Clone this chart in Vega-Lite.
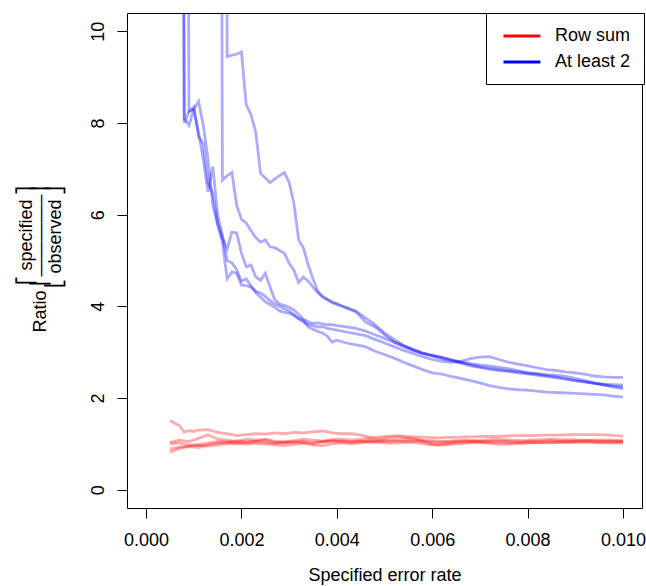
{
"$schema": "https://vega.github.io/schema/vega-lite/v6.json",
"width": 515, "height": 495,
"autosize": {"type": "none"},
"padding": {"left": 127, "top": 13, "right": 4, "bottom": 78},
"background": "white",
"config": {
  "view": {"stroke": "black", "strokeWidth": 1},
  "font": "Liberation Sans",
  "axis": {"grid": false, "domain": false, "tickColor": "black", "tickWidth": 1, "tickSize": 10, "labelFont": "Liberation Sans", "labelFontSize": 18, "labelColor": "black", "titleFont": "Liberation Sans", "titleFontSize": 18, "titleFontWeight": "normal", "titleColor": "black"},
  "legend": {"orient": "none", "legendX": 359, "legendY": 0, "strokeColor": "black", "fillColor": "white", "padding": 13, "symbolType": "M-0.65,0H3.7", "symbolSize": 289, "symbolStrokeWidth": 3, "symbolOpacity": 1, "labelFont": "Liberation Sans", "labelFontSize": 18, "labelColor": "black", "labelOffset": 36, "rowPadding": 7, "labelLimit": 300}
},
"datasets": {
  "runs": [
    {"s": "r1", "m": "Row sum"}, {"s": "r2", "m": "Row sum"}, {"s": "r3", "m": "Row sum"}, {"s": "r4", "m": "Row sum"}, {"s": "r5", "m": "Row sum"},
    {"s": "b1", "m": "At least 2"}, {"s": "b2", "m": "At least 2"}, {"s": "b3", "m": "At least 2"}, {"s": "b4", "m": "At least 2"}, {"s": "b5", "m": "At least 2"}
  ],
  "pts": [
{"s":"b1","x":0.0005,"y":70},{"s":"b1","x":0.001,"y":60},{"s":"b1","x":0.0016,"y":50},{"s":"b1","x":0.0017,"y":9.45},{"s":"b1","x":0.0018,"y":9.48},{"s":"b1","x":0.0019,"y":9.5},{"s":"b1","x":0.002,"y":9.55},{"s":"b1","x":0.0021,"y":8.4},{"s":"b1","x":0.0022,"y":8.18},{"s":"b1","x":0.0023,"y":7.8},{"s":"b1","x":0.0024,"y":6.9},{"s":"b1","x":0.0025,"y":6.8},{"s":"b1","x":0.0026,"y":6.7},{"s":"b1","x":0.0027,"y":6.78},{"s":"b1","x":0.0028,"y":6.85},{"s":"b1","x":0.0029,"y":6.92},{"s":"b1","x":0.003,"y":6.7},{"s":"b1","x":0.0031,"y":6.25},{"s":"b1","x":0.0032,"y":5.45},{"s":"b1","x":0.0033,"y":5.27},{"s":"b1","x":0.0034,"y":4.9},{"s":"b1","x":0.0035,"y":4.6},{"s":"b1","x":0.0036,"y":4.33},{"s":"b1","x":0.0037,"y":4.22},{"s":"b1","x":0.0038,"y":4.15},{"s":"b1","x":0.0039,"y":4.1},{"s":"b1","x":0.004,"y":4.06},{"s":"b1","x":0.0042,"y":3.96},{"s":"b1","x":0.0044,"y":3.88},{"s":"b1","x":0.0046,"y":3.66},{"s":"b1","x":0.0048,"y":3.55},{"s":"b1","x":0.005,"y":3.38},{"s":"b1","x":0.0052,"y":3.22},{"s":"b1","x":0.0054,"y":3.12},{"s":"b1","x":0.0056,"y":3.04},{"s":"b1","x":0.0058,"y":2.97},{"s":"b1","x":0.006,"y":2.92},{"s":"b1","x":0.0062,"y":2.86},{"s":"b1","x":0.0064,"y":2.82},{"s":"b1","x":0.0066,"y":2.76},{"s":"b1","x":0.0068,"y":2.7},{"s":"b1","x":0.007,"y":2.67},{"s":"b1","x":0.0072,"y":2.63},{"s":"b1","x":0.0074,"y":2.6},{"s":"b1","x":0.0076,"y":2.58},{"s":"b1","x":0.0078,"y":2.55},{"s":"b1","x":0.008,"y":2.52},{"s":"b1","x":0.0082,"y":2.5},{"s":"b1","x":0.0084,"y":2.47},{"s":"b1","x":0.0086,"y":2.44},{"s":"b1","x":0.0088,"y":2.41},{"s":"b1","x":0.009,"y":2.38},{"s":"b1","x":0.0092,"y":2.35},{"s":"b1","x":0.0094,"y":2.32},{"s":"b1","x":0.0096,"y":2.29},{"s":"b1","x":0.0098,"y":2.26},{"s":"b1","x":0.01,"y":2.24},
{"s":"b2","x":0.0005,"y":60},{"s":"b2","x":0.001,"y":55},{"s":"b2","x":0.0015,"y":45},{"s":"b2","x":0.0016,"y":6.75},{"s":"b2","x":0.0017,"y":6.85},{"s":"b2","x":0.0018,"y":6.92},{"s":"b2","x":0.0019,"y":6.2},{"s":"b2","x":0.002,"y":5.9},{"s":"b2","x":0.0021,"y":5.82},{"s":"b2","x":0.0022,"y":5.65},{"s":"b2","x":0.0023,"y":5.5},{"s":"b2","x":0.0024,"y":5.4},{"s":"b2","x":0.0025,"y":5.45},{"s":"b2","x":0.0026,"y":5.3},{"s":"b2","x":0.0027,"y":5.28},{"s":"b2","x":0.0028,"y":5.22},{"s":"b2","x":0.0029,"y":5.16},{"s":"b2","x":0.003,"y":4.94},{"s":"b2","x":0.0031,"y":4.79},{"s":"b2","x":0.0032,"y":4.52},{"s":"b2","x":0.0033,"y":4.64},{"s":"b2","x":0.0034,"y":4.55},{"s":"b2","x":0.0035,"y":4.42},{"s":"b2","x":0.0036,"y":4.3},{"s":"b2","x":0.0037,"y":4.2},{"s":"b2","x":0.0038,"y":4.15},{"s":"b2","x":0.0039,"y":4.08},{"s":"b2","x":0.004,"y":4.04},{"s":"b2","x":0.0042,"y":3.98},{"s":"b2","x":0.0044,"y":3.9},{"s":"b2","x":0.0046,"y":3.75},{"s":"b2","x":0.0048,"y":3.6},{"s":"b2","x":0.005,"y":3.42},{"s":"b2","x":0.0052,"y":3.28},{"s":"b2","x":0.0054,"y":3.15},{"s":"b2","x":0.0056,"y":3.05},{"s":"b2","x":0.0058,"y":2.98},{"s":"b2","x":0.006,"y":2.93},{"s":"b2","x":0.0062,"y":2.89},{"s":"b2","x":0.0064,"y":2.84},{"s":"b2","x":0.0066,"y":2.79},{"s":"b2","x":0.0068,"y":2.73},{"s":"b2","x":0.007,"y":2.68},{"s":"b2","x":0.0072,"y":2.65},{"s":"b2","x":0.0074,"y":2.62},{"s":"b2","x":0.0076,"y":2.59},{"s":"b2","x":0.0078,"y":2.57},{"s":"b2","x":0.008,"y":2.55},{"s":"b2","x":0.0082,"y":2.53},{"s":"b2","x":0.0084,"y":2.51},{"s":"b2","x":0.0086,"y":2.5},{"s":"b2","x":0.0088,"y":2.47},{"s":"b2","x":0.009,"y":2.43},{"s":"b2","x":0.0092,"y":2.38},{"s":"b2","x":0.0094,"y":2.33},{"s":"b2","x":0.0096,"y":2.28},{"s":"b2","x":0.0098,"y":2.24},{"s":"b2","x":0.01,"y":2.2},
{"s":"b3","x":0.0005,"y":60},{"s":"b3","x":0.0006,"y":50},{"s":"b3","x":0.0007,"y":40},{"s":"b3","x":0.0008,"y":8.0},{"s":"b3","x":0.0009,"y":8.25},{"s":"b3","x":0.001,"y":8.35},{"s":"b3","x":0.0011,"y":7.7},{"s":"b3","x":0.0012,"y":7.55},{"s":"b3","x":0.0013,"y":6.7},{"s":"b3","x":0.0014,"y":6.45},{"s":"b3","x":0.0015,"y":5.8},{"s":"b3","x":0.0016,"y":5.5},{"s":"b3","x":0.0017,"y":5.25},{"s":"b3","x":0.0018,"y":5.62},{"s":"b3","x":0.0019,"y":5.6},{"s":"b3","x":0.002,"y":5.16},{"s":"b3","x":0.0021,"y":4.86},{"s":"b3","x":0.0022,"y":4.9},{"s":"b3","x":0.0023,"y":4.64},{"s":"b3","x":0.0024,"y":4.57},{"s":"b3","x":0.0025,"y":4.72},{"s":"b3","x":0.0026,"y":4.42},{"s":"b3","x":0.0027,"y":4.14},{"s":"b3","x":0.0028,"y":4.05},{"s":"b3","x":0.0029,"y":4.02},{"s":"b3","x":0.003,"y":3.98},{"s":"b3","x":0.0031,"y":3.92},{"s":"b3","x":0.0032,"y":3.82},{"s":"b3","x":0.0033,"y":3.72},{"s":"b3","x":0.0034,"y":3.66},{"s":"b3","x":0.0035,"y":3.63},{"s":"b3","x":0.0036,"y":3.64},{"s":"b3","x":0.0037,"y":3.62},{"s":"b3","x":0.0038,"y":3.6},{"s":"b3","x":0.0039,"y":3.6},{"s":"b3","x":0.004,"y":3.58},{"s":"b3","x":0.0042,"y":3.55},{"s":"b3","x":0.0044,"y":3.52},{"s":"b3","x":0.0046,"y":3.46},{"s":"b3","x":0.0048,"y":3.38},{"s":"b3","x":0.005,"y":3.3},{"s":"b3","x":0.0052,"y":3.22},{"s":"b3","x":0.0054,"y":3.14},{"s":"b3","x":0.0056,"y":3.06},{"s":"b3","x":0.0058,"y":2.98},{"s":"b3","x":0.006,"y":2.93},{"s":"b3","x":0.0062,"y":2.88},{"s":"b3","x":0.0064,"y":2.82},{"s":"b3","x":0.0066,"y":2.78},{"s":"b3","x":0.0068,"y":2.75},{"s":"b3","x":0.007,"y":2.72},{"s":"b3","x":0.0072,"y":2.7},{"s":"b3","x":0.0074,"y":2.67},{"s":"b3","x":0.0076,"y":2.64},{"s":"b3","x":0.0078,"y":2.6},{"s":"b3","x":0.008,"y":2.55},{"s":"b3","x":0.0082,"y":2.52},{"s":"b3","x":0.0084,"y":2.49},{"s":"b3","x":0.0086,"y":2.46},{"s":"b3","x":0.0088,"y":2.42},{"s":"b3","x":0.009,"y":2.38},{"s":"b3","x":0.0092,"y":2.35},{"s":"b3","x":0.0094,"y":2.32},{"s":"b3","x":0.0096,"y":2.3},{"s":"b3","x":0.0098,"y":2.29},{"s":"b3","x":0.01,"y":2.28},
{"s":"b4","x":0.0005,"y":55},{"s":"b4","x":0.0006,"y":48},{"s":"b4","x":0.0007,"y":42},{"s":"b4","x":0.0008,"y":36},{"s":"b4","x":0.0009,"y":8.25},{"s":"b4","x":0.001,"y":8.3},{"s":"b4","x":0.0011,"y":8.47},{"s":"b4","x":0.0012,"y":7.95},{"s":"b4","x":0.0013,"y":7.2},{"s":"b4","x":0.0014,"y":6.2},{"s":"b4","x":0.0015,"y":5.78},{"s":"b4","x":0.0016,"y":5.4},{"s":"b4","x":0.0017,"y":4.6},{"s":"b4","x":0.0018,"y":4.75},{"s":"b4","x":0.0019,"y":4.72},{"s":"b4","x":0.002,"y":4.46},{"s":"b4","x":0.0021,"y":4.45},{"s":"b4","x":0.0022,"y":4.42},{"s":"b4","x":0.0023,"y":4.33},{"s":"b4","x":0.0024,"y":4.29},{"s":"b4","x":0.0025,"y":4.22},{"s":"b4","x":0.0026,"y":4.12},{"s":"b4","x":0.0027,"y":4.05},{"s":"b4","x":0.0028,"y":4.0},{"s":"b4","x":0.0029,"y":3.95},{"s":"b4","x":0.003,"y":3.9},{"s":"b4","x":0.0031,"y":3.82},{"s":"b4","x":0.0032,"y":3.72},{"s":"b4","x":0.0033,"y":3.66},{"s":"b4","x":0.0034,"y":3.6},{"s":"b4","x":0.0035,"y":3.58},{"s":"b4","x":0.0036,"y":3.55},{"s":"b4","x":0.0037,"y":3.56},{"s":"b4","x":0.0038,"y":3.52},{"s":"b4","x":0.0039,"y":3.5},{"s":"b4","x":0.004,"y":3.48},{"s":"b4","x":0.0042,"y":3.44},{"s":"b4","x":0.0044,"y":3.4},{"s":"b4","x":0.0046,"y":3.36},{"s":"b4","x":0.0048,"y":3.28},{"s":"b4","x":0.005,"y":3.2},{"s":"b4","x":0.0052,"y":3.12},{"s":"b4","x":0.0054,"y":3.04},{"s":"b4","x":0.0056,"y":2.97},{"s":"b4","x":0.0058,"y":2.9},{"s":"b4","x":0.006,"y":2.84},{"s":"b4","x":0.0062,"y":2.8},{"s":"b4","x":0.0064,"y":2.78},{"s":"b4","x":0.0066,"y":2.8},{"s":"b4","x":0.0068,"y":2.86},{"s":"b4","x":0.007,"y":2.89},{"s":"b4","x":0.0072,"y":2.9},{"s":"b4","x":0.0074,"y":2.84},{"s":"b4","x":0.0076,"y":2.78},{"s":"b4","x":0.0078,"y":2.74},{"s":"b4","x":0.008,"y":2.7},{"s":"b4","x":0.0082,"y":2.66},{"s":"b4","x":0.0084,"y":2.62},{"s":"b4","x":0.0086,"y":2.6},{"s":"b4","x":0.0088,"y":2.57},{"s":"b4","x":0.009,"y":2.55},{"s":"b4","x":0.0092,"y":2.52},{"s":"b4","x":0.0094,"y":2.48},{"s":"b4","x":0.0096,"y":2.46},{"s":"b4","x":0.0098,"y":2.45},{"s":"b4","x":0.01,"y":2.45},
{"s":"b5","x":0.0005,"y":50},{"s":"b5","x":0.0006,"y":45},{"s":"b5","x":0.0007,"y":35},{"s":"b5","x":0.0008,"y":8.1},{"s":"b5","x":0.0009,"y":7.95},{"s":"b5","x":0.001,"y":8.3},{"s":"b5","x":0.0011,"y":7.8},{"s":"b5","x":0.0012,"y":7.2},{"s":"b5","x":0.0013,"y":6.5},{"s":"b5","x":0.0014,"y":7.05},{"s":"b5","x":0.0015,"y":6.0},{"s":"b5","x":0.0016,"y":5.55},{"s":"b5","x":0.0017,"y":5.0},{"s":"b5","x":0.0018,"y":4.95},{"s":"b5","x":0.0019,"y":4.8},{"s":"b5","x":0.002,"y":4.55},{"s":"b5","x":0.0021,"y":4.6},{"s":"b5","x":0.0022,"y":4.45},{"s":"b5","x":0.0023,"y":4.3},{"s":"b5","x":0.0024,"y":4.2},{"s":"b5","x":0.0025,"y":4.1},{"s":"b5","x":0.0026,"y":4.04},{"s":"b5","x":0.0027,"y":3.98},{"s":"b5","x":0.0028,"y":3.9},{"s":"b5","x":0.0029,"y":3.87},{"s":"b5","x":0.003,"y":3.85},{"s":"b5","x":0.0031,"y":3.8},{"s":"b5","x":0.0032,"y":3.74},{"s":"b5","x":0.0033,"y":3.7},{"s":"b5","x":0.0034,"y":3.55},{"s":"b5","x":0.0035,"y":3.5},{"s":"b5","x":0.0036,"y":3.45},{"s":"b5","x":0.0037,"y":3.42},{"s":"b5","x":0.0038,"y":3.35},{"s":"b5","x":0.0039,"y":3.22},{"s":"b5","x":0.004,"y":3.26},{"s":"b5","x":0.0042,"y":3.2},{"s":"b5","x":0.0044,"y":3.16},{"s":"b5","x":0.0046,"y":3.12},{"s":"b5","x":0.0048,"y":3.02},{"s":"b5","x":0.005,"y":2.95},{"s":"b5","x":0.0052,"y":2.87},{"s":"b5","x":0.0054,"y":2.78},{"s":"b5","x":0.0056,"y":2.7},{"s":"b5","x":0.0058,"y":2.62},{"s":"b5","x":0.006,"y":2.55},{"s":"b5","x":0.0062,"y":2.52},{"s":"b5","x":0.0064,"y":2.47},{"s":"b5","x":0.0066,"y":2.43},{"s":"b5","x":0.0068,"y":2.38},{"s":"b5","x":0.007,"y":2.33},{"s":"b5","x":0.0072,"y":2.27},{"s":"b5","x":0.0074,"y":2.23},{"s":"b5","x":0.0076,"y":2.2},{"s":"b5","x":0.0078,"y":2.18},{"s":"b5","x":0.008,"y":2.17},{"s":"b5","x":0.0082,"y":2.15},{"s":"b5","x":0.0084,"y":2.13},{"s":"b5","x":0.0086,"y":2.12},{"s":"b5","x":0.0088,"y":2.11},{"s":"b5","x":0.009,"y":2.1},{"s":"b5","x":0.0092,"y":2.09},{"s":"b5","x":0.0094,"y":2.08},{"s":"b5","x":0.0096,"y":2.07},{"s":"b5","x":0.0098,"y":2.04},{"s":"b5","x":0.01,"y":2.02},
{"s":"r1","x":0.0005,"y":1.51},{"s":"r1","x":0.0006,"y":1.45},{"s":"r1","x":0.0007,"y":1.4},{"s":"r1","x":0.0008,"y":1.25},{"s":"r1","x":0.0009,"y":1.29},{"s":"r1","x":0.001,"y":1.27},{"s":"r1","x":0.0011,"y":1.3},{"s":"r1","x":0.0013,"y":1.31},{"s":"r1","x":0.0015,"y":1.25},{"s":"r1","x":0.0017,"y":1.22},{"s":"r1","x":0.0019,"y":1.18},{"s":"r1","x":0.0021,"y":1.2},{"s":"r1","x":0.0023,"y":1.22},{"s":"r1","x":0.0025,"y":1.21},{"s":"r1","x":0.0027,"y":1.24},{"s":"r1","x":0.0029,"y":1.22},{"s":"r1","x":0.0031,"y":1.25},{"s":"r1","x":0.0033,"y":1.24},{"s":"r1","x":0.0035,"y":1.26},{"s":"r1","x":0.0037,"y":1.28},{"s":"r1","x":0.0039,"y":1.24},{"s":"r1","x":0.0041,"y":1.22},{"s":"r1","x":0.0043,"y":1.22},{"s":"r1","x":0.0045,"y":1.19},{"s":"r1","x":0.0047,"y":1.14},{"s":"r1","x":0.0049,"y":1.15},{"s":"r1","x":0.0051,"y":1.17},{"s":"r1","x":0.0053,"y":1.18},{"s":"r1","x":0.0055,"y":1.16},{"s":"r1","x":0.0057,"y":1.15},{"s":"r1","x":0.0059,"y":1.14},{"s":"r1","x":0.0061,"y":1.13},{"s":"r1","x":0.0063,"y":1.14},{"s":"r1","x":0.0065,"y":1.14},{"s":"r1","x":0.0067,"y":1.15},{"s":"r1","x":0.0069,"y":1.15},{"s":"r1","x":0.0071,"y":1.16},{"s":"r1","x":0.0073,"y":1.16},{"s":"r1","x":0.0075,"y":1.17},{"s":"r1","x":0.0077,"y":1.18},{"s":"r1","x":0.0079,"y":1.18},{"s":"r1","x":0.0081,"y":1.18},{"s":"r1","x":0.0083,"y":1.19},{"s":"r1","x":0.0085,"y":1.19},{"s":"r1","x":0.0087,"y":1.19},{"s":"r1","x":0.0089,"y":1.2},{"s":"r1","x":0.0091,"y":1.2},{"s":"r1","x":0.0093,"y":1.2},{"s":"r1","x":0.0095,"y":1.2},{"s":"r1","x":0.0097,"y":1.19},{"s":"r1","x":0.01,"y":1.17},
{"s":"r2","x":0.0005,"y":1.03},{"s":"r2","x":0.0007,"y":1.08},{"s":"r2","x":0.0009,"y":1.05},{"s":"r2","x":0.0011,"y":1.12},{"s":"r2","x":0.0013,"y":1.2},{"s":"r2","x":0.0015,"y":1.1},{"s":"r2","x":0.0017,"y":1.08},{"s":"r2","x":0.0019,"y":1.05},{"s":"r2","x":0.0021,"y":1.1},{"s":"r2","x":0.0023,"y":1.08},{"s":"r2","x":0.0025,"y":1.1},{"s":"r2","x":0.0027,"y":1.06},{"s":"r2","x":0.0029,"y":1.04},{"s":"r2","x":0.0031,"y":1.07},{"s":"r2","x":0.0033,"y":1.1},{"s":"r2","x":0.0035,"y":1.08},{"s":"r2","x":0.0037,"y":1.06},{"s":"r2","x":0.0039,"y":1.09},{"s":"r2","x":0.0041,"y":1.1},{"s":"r2","x":0.0043,"y":1.08},{"s":"r2","x":0.0045,"y":1.1},{"s":"r2","x":0.0047,"y":1.12},{"s":"r2","x":0.0049,"y":1.1},{"s":"r2","x":0.0051,"y":1.13},{"s":"r2","x":0.0053,"y":1.15},{"s":"r2","x":0.0055,"y":1.13},{"s":"r2","x":0.0057,"y":1.1},{"s":"r2","x":0.0059,"y":1.05},{"s":"r2","x":0.0061,"y":1.03},{"s":"r2","x":0.0063,"y":1.05},{"s":"r2","x":0.0065,"y":1.07},{"s":"r2","x":0.0067,"y":1.08},{"s":"r2","x":0.0069,"y":1.07},{"s":"r2","x":0.0071,"y":1.08},{"s":"r2","x":0.0073,"y":1.1},{"s":"r2","x":0.0075,"y":1.09},{"s":"r2","x":0.0077,"y":1.08},{"s":"r2","x":0.0079,"y":1.07},{"s":"r2","x":0.0081,"y":1.08},{"s":"r2","x":0.0083,"y":1.09},{"s":"r2","x":0.0085,"y":1.1},{"s":"r2","x":0.0087,"y":1.09},{"s":"r2","x":0.0089,"y":1.09},{"s":"r2","x":0.0091,"y":1.08},{"s":"r2","x":0.0093,"y":1.08},{"s":"r2","x":0.0095,"y":1.08},{"s":"r2","x":0.0097,"y":1.08},{"s":"r2","x":0.01,"y":1.07},
{"s":"r3","x":0.0005,"y":1.0},{"s":"r3","x":0.0007,"y":1.02},{"s":"r3","x":0.0009,"y":0.97},{"s":"r3","x":0.0011,"y":0.98},{"s":"r3","x":0.0013,"y":1.02},{"s":"r3","x":0.0015,"y":1.05},{"s":"r3","x":0.0017,"y":1.03},{"s":"r3","x":0.0019,"y":1.07},{"s":"r3","x":0.0021,"y":1.04},{"s":"r3","x":0.0023,"y":1.06},{"s":"r3","x":0.0025,"y":1.08},{"s":"r3","x":0.0027,"y":1.03},{"s":"r3","x":0.0029,"y":1.02},{"s":"r3","x":0.0031,"y":1.05},{"s":"r3","x":0.0033,"y":1.03},{"s":"r3","x":0.0035,"y":1.0},{"s":"r3","x":0.0037,"y":1.04},{"s":"r3","x":0.0039,"y":1.06},{"s":"r3","x":0.0041,"y":1.05},{"s":"r3","x":0.0043,"y":1.03},{"s":"r3","x":0.0045,"y":1.05},{"s":"r3","x":0.0047,"y":1.07},{"s":"r3","x":0.0049,"y":1.06},{"s":"r3","x":0.0051,"y":1.05},{"s":"r3","x":0.0053,"y":1.08},{"s":"r3","x":0.0055,"y":1.1},{"s":"r3","x":0.0057,"y":1.08},{"s":"r3","x":0.0059,"y":1.02},{"s":"r3","x":0.0061,"y":0.98},{"s":"r3","x":0.0063,"y":1.0},{"s":"r3","x":0.0065,"y":1.03},{"s":"r3","x":0.0067,"y":1.04},{"s":"r3","x":0.0069,"y":1.05},{"s":"r3","x":0.0071,"y":1.04},{"s":"r3","x":0.0073,"y":1.03},{"s":"r3","x":0.0075,"y":1.03},{"s":"r3","x":0.0077,"y":1.02},{"s":"r3","x":0.0079,"y":1.01},{"s":"r3","x":0.0081,"y":1.02},{"s":"r3","x":0.0083,"y":1.03},{"s":"r3","x":0.0085,"y":1.03},{"s":"r3","x":0.0087,"y":1.04},{"s":"r3","x":0.0089,"y":1.04},{"s":"r3","x":0.0091,"y":1.05},{"s":"r3","x":0.0093,"y":1.05},{"s":"r3","x":0.0095,"y":1.04},{"s":"r3","x":0.0097,"y":1.04},{"s":"r3","x":0.01,"y":1.04},
{"s":"r4","x":0.0005,"y":0.89},{"s":"r4","x":0.0007,"y":0.93},{"s":"r4","x":0.0009,"y":0.95},{"s":"r4","x":0.0011,"y":0.97},{"s":"r4","x":0.0013,"y":0.95},{"s":"r4","x":0.0015,"y":0.98},{"s":"r4","x":0.0017,"y":1.0},{"s":"r4","x":0.0019,"y":1.02},{"s":"r4","x":0.0021,"y":0.99},{"s":"r4","x":0.0023,"y":1.01},{"s":"r4","x":0.0025,"y":1.0},{"s":"r4","x":0.0027,"y":0.98},{"s":"r4","x":0.0029,"y":0.96},{"s":"r4","x":0.0031,"y":0.99},{"s":"r4","x":0.0033,"y":1.01},{"s":"r4","x":0.0035,"y":0.97},{"s":"r4","x":0.0037,"y":0.96},{"s":"r4","x":0.0039,"y":1.0},{"s":"r4","x":0.0041,"y":1.02},{"s":"r4","x":0.0043,"y":1.0},{"s":"r4","x":0.0045,"y":1.02},{"s":"r4","x":0.0047,"y":1.04},{"s":"r4","x":0.0049,"y":1.03},{"s":"r4","x":0.0051,"y":1.01},{"s":"r4","x":0.0053,"y":1.02},{"s":"r4","x":0.0055,"y":1.04},{"s":"r4","x":0.0057,"y":1.02},{"s":"r4","x":0.0059,"y":0.99},{"s":"r4","x":0.0061,"y":0.97},{"s":"r4","x":0.0063,"y":0.98},{"s":"r4","x":0.0065,"y":1.0},{"s":"r4","x":0.0067,"y":1.01},{"s":"r4","x":0.0069,"y":1.03},{"s":"r4","x":0.0071,"y":1.02},{"s":"r4","x":0.0073,"y":1.0},{"s":"r4","x":0.0075,"y":0.99},{"s":"r4","x":0.0077,"y":1.0},{"s":"r4","x":0.0079,"y":1.02},{"s":"r4","x":0.0081,"y":1.03},{"s":"r4","x":0.0083,"y":1.02},{"s":"r4","x":0.0085,"y":1.02},{"s":"r4","x":0.0087,"y":1.03},{"s":"r4","x":0.0089,"y":1.04},{"s":"r4","x":0.0091,"y":1.03},{"s":"r4","x":0.0093,"y":1.03},{"s":"r4","x":0.0095,"y":1.02},{"s":"r4","x":0.0097,"y":1.02},{"s":"r4","x":0.01,"y":1.02},
{"s":"r5","x":0.0005,"y":0.82},{"s":"r5","x":0.0007,"y":0.9},{"s":"r5","x":0.0009,"y":0.94},{"s":"r5","x":0.0011,"y":0.92},{"s":"r5","x":0.0013,"y":0.98},{"s":"r5","x":0.0015,"y":1.02},{"s":"r5","x":0.0017,"y":1.04},{"s":"r5","x":0.0019,"y":1.0},{"s":"r5","x":0.0021,"y":1.03},{"s":"r5","x":0.0023,"y":1.05},{"s":"r5","x":0.0025,"y":1.03},{"s":"r5","x":0.0027,"y":1.01},{"s":"r5","x":0.0029,"y":1.04},{"s":"r5","x":0.0031,"y":1.03},{"s":"r5","x":0.0033,"y":1.05},{"s":"r5","x":0.0035,"y":1.03},{"s":"r5","x":0.0037,"y":1.05},{"s":"r5","x":0.0039,"y":1.07},{"s":"r5","x":0.0041,"y":1.06},{"s":"r5","x":0.0043,"y":1.05},{"s":"r5","x":0.0045,"y":1.06},{"s":"r5","x":0.0047,"y":1.05},{"s":"r5","x":0.0049,"y":1.07},{"s":"r5","x":0.0051,"y":1.08},{"s":"r5","x":0.0053,"y":1.06},{"s":"r5","x":0.0055,"y":1.05},{"s":"r5","x":0.0057,"y":1.06},{"s":"r5","x":0.0059,"y":1.07},{"s":"r5","x":0.0061,"y":1.06},{"s":"r5","x":0.0063,"y":1.04},{"s":"r5","x":0.0065,"y":1.05},{"s":"r5","x":0.0067,"y":1.06},{"s":"r5","x":0.0069,"y":1.06},{"s":"r5","x":0.0071,"y":1.05},{"s":"r5","x":0.0073,"y":1.06},{"s":"r5","x":0.0075,"y":1.06},{"s":"r5","x":0.0077,"y":1.05},{"s":"r5","x":0.0079,"y":1.05},{"s":"r5","x":0.0081,"y":1.06},{"s":"r5","x":0.0083,"y":1.06},{"s":"r5","x":0.0085,"y":1.07},{"s":"r5","x":0.0087,"y":1.06},{"s":"r5","x":0.0089,"y":1.06},{"s":"r5","x":0.0091,"y":1.07},{"s":"r5","x":0.0093,"y":1.07},{"s":"r5","x":0.0095,"y":1.06},{"s":"r5","x":0.0097,"y":1.06},{"s":"r5","x":0.01,"y":1.06}
  ]
},
"data": {"name": "pts"},
"transform": [{"lookup": "s", "from": {"data": {"name": "runs"}, "key": "s", "fields": ["m"]}}],
"mark": {"type": "line", "clip": true, "strokeWidth": 2.8, "strokeOpacity": 0.33},
"encoding": {
  "x": {"field": "x", "type": "quantitative",
        "scale": {"domain": [-0.0004, 0.0104], "nice": false, "zero": false},
        "axis": {"values": [0, 0.002, 0.004, 0.006, 0.008, 0.01], "format": ".3f", "labelBaseline": "alphabetic", "labelPadding": 27, "title": "Specified error rate", "titleBaseline": "alphabetic", "titleY": 72}},
  "y": {"field": "y", "type": "quantitative",
        "scale": {"domain": [-0.4, 10.4], "nice": false, "zero": false},
        "axis": {"values": [0, 2, 4, 6, 8, 10], "format": "d", "labelAngle": -90, "labelAlign": "center", "labelBaseline": "alphabetic", "labelPadding": 14,
                 "title": ["⎡\u00a0specified\u00a0⎤", "Ratio\u00a0⎢————–⎥", "⎣\u00a0observed\u00a0⎦"],
                 "titleAngle": -90, "titleAlign": "right", "titleBaseline": "alphabetic", "titleLineHeight": 14.5, "titleX": -96, "titleY": 172}},
  "color": {"field": "m", "type": "nominal", "scale": {"domain": ["Row sum", "At least 2"], "range": ["#ff0000", "#0000ff"]}, "legend": {"title": null}},
  "detail": {"field": "s", "type": "nominal"}
}
}
